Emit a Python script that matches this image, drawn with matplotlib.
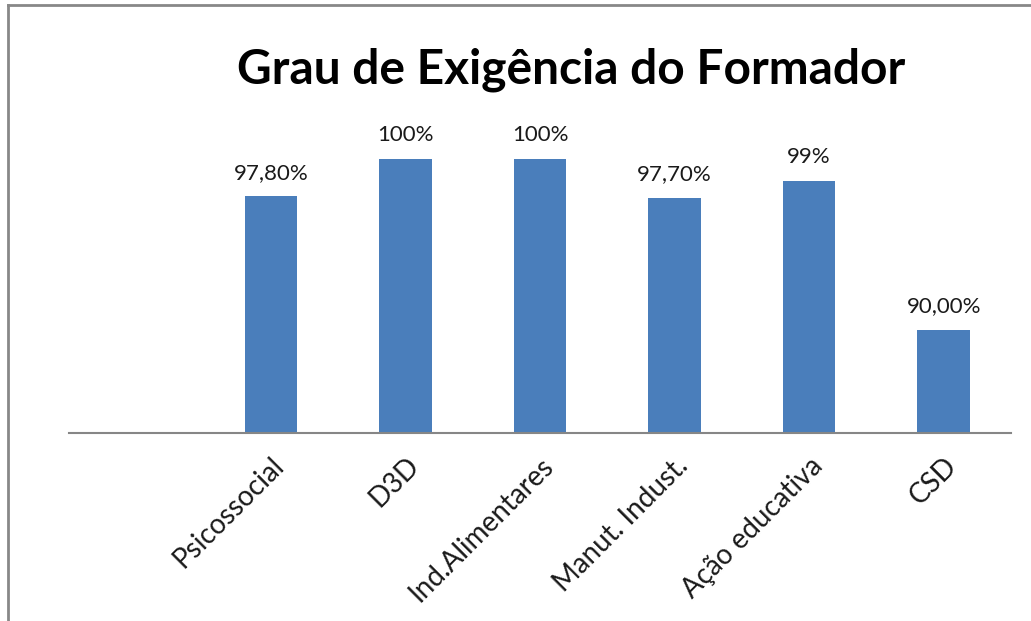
import matplotlib
matplotlib.use('Agg')
import matplotlib.pyplot as plt
from matplotlib.lines import Line2D

# data
categories = ['', 'Psicossocial', 'D3D', 'Ind.Alimentares', 'Manut. Indust.', 'Ação educativa', 'CSD']
values = [None, 97.8, 100, 100, 97.7, 98.7, 90.0]
value_labels = ['', '97,80%', '100%', '100%', '97,70%', '99%', '90,00%']

plt.rcParams['font.family'] = ['Lato', 'DejaVu Sans']

W, H = 1031, 621
fig = plt.figure(figsize=(W / 100, H / 100), dpi=100)
fig.set_facecolor('white')

# axes placed in pixel terms: x 69..1011, baseline at y=433, top at ~124
left, right = 69, 1011
bottom_px, top_px = 433, 124.5
ax = fig.add_axes([left / W, (H - bottom_px) / H, (right - left) / W, (bottom_px - top_px) / H])

xs = [i for i, v in enumerate(values) if v is not None]
ys = [v for v in values if v is not None]
bars = ax.bar(xs, [y - 84 for y in ys], bottom=84, width=0.39, color='#4a7ebb', zorder=2)

for x, y, lab in zip(xs, ys, value_labels[1:]):
    ax.annotate(lab, (x, y), xytext=(0, 10), textcoords='offset points',
                ha='center', va='bottom', fontsize=16, color='#1a1a1a')

ax.set_xlim(-0.5, 6.5)
ax.set_ylim(84, 102)
ax.set_xticks(range(len(categories)))
ax.set_xticklabels(categories, rotation=45, ha='right', rotation_mode='anchor',
                   fontsize=20, color='#1a1a1a')
ax.tick_params(axis='x', length=0, pad=14)
ax.set_yticks([])

for s in ['top', 'right', 'left']:
    ax.spines[s].set_visible(False)
ax.spines['bottom'].set_color('#868686')
ax.spines['bottom'].set_linewidth(1.5)

fig.text(571 / W, 1 - 70 / H, 'Grau de Exigência do Formador', ha='center', va='center',
         fontsize=34.5, fontweight='bold', color='black')

# outer chart border (only top and left visible in the crop)
fig.add_artist(Line2D([8 / W, 8 / W], [0, 1 - 5 / H], color='#888888', lw=2, transform=fig.transFigure))
fig.add_artist(Line2D([8 / W, 1], [1 - 5 / H, 1 - 5 / H], color='#888888', lw=2, transform=fig.transFigure))

fig.savefig('out.png', dpi=100)
